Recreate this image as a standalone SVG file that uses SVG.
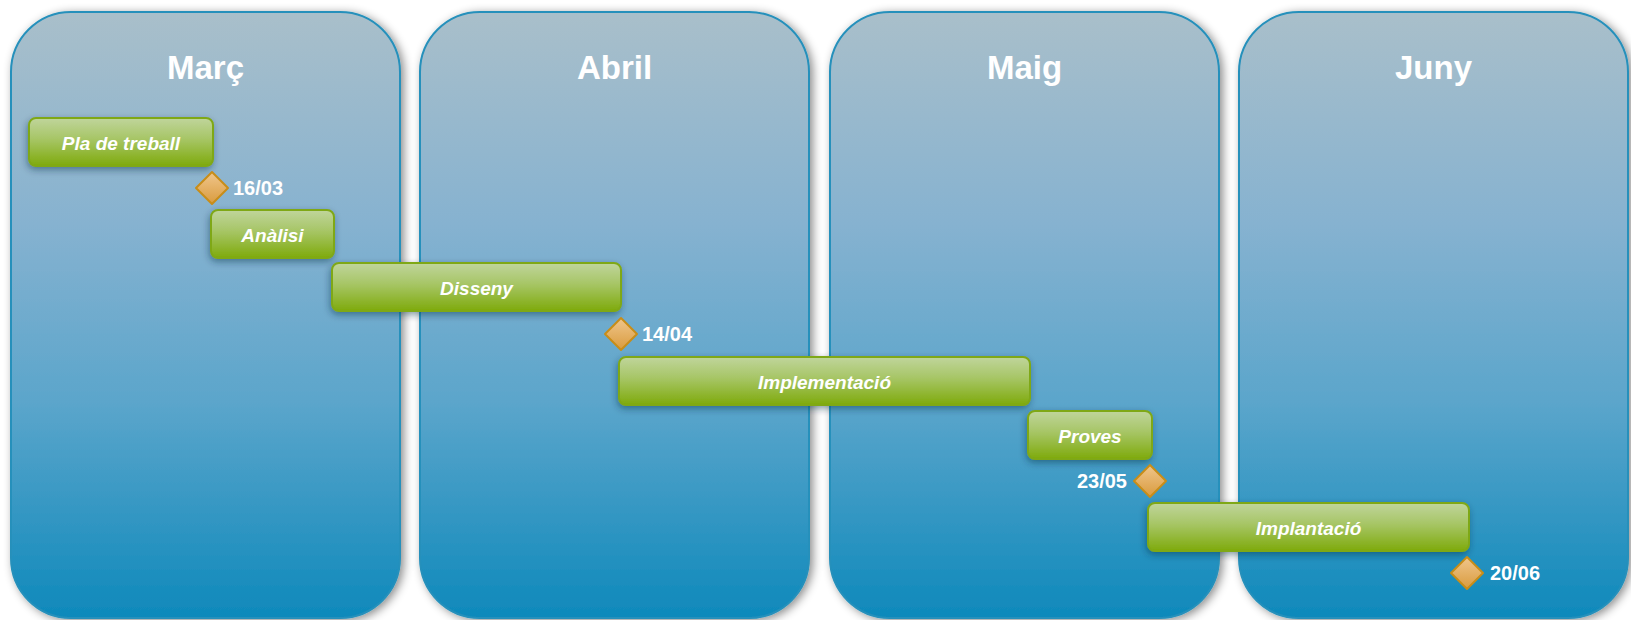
<svg xmlns="http://www.w3.org/2000/svg" width="1631" height="620" viewBox="0 0 1631 620">
  <defs>
    <linearGradient id="colGrad" x1="0" y1="0" x2="0" y2="1">
      <stop offset="0" stop-color="#a9bfca"/>
      <stop offset="0.35" stop-color="#86b2d0"/>
      <stop offset="0.65" stop-color="#5aa5cb"/>
      <stop offset="1" stop-color="#0e89bb"/>
    </linearGradient>
    <linearGradient id="barGrad" x1="0" y1="0" x2="0" y2="1">
      <stop offset="0" stop-color="#c0d59c"/>
      <stop offset="0.45" stop-color="#a6c564"/>
      <stop offset="1" stop-color="#7eaa0c"/>
    </linearGradient>
    <linearGradient id="diaGrad" x1="0" y1="0" x2="0" y2="1">
      <stop offset="0" stop-color="#f0c68c"/>
      <stop offset="1" stop-color="#d99b3e"/>
    </linearGradient>
    <filter id="colShadow" x="-10%" y="-10%" width="120%" height="120%">
      <feDropShadow dx="3" dy="2" stdDeviation="5" flood-color="#000" flood-opacity="0.45"/>
    </filter>
    <filter id="barShadow" x="-10%" y="-30%" width="120%" height="160%">
      <feDropShadow dx="-1" dy="3" stdDeviation="3.5" flood-color="#0a2a40" flood-opacity="0.45"/>
    </filter>
    <style>
      .col { fill: url(#colGrad); stroke: #2590bb; stroke-width: 2; filter: url(#colShadow); }
      .month { font-family: "Liberation Sans", Arial, sans-serif; font-weight: bold; font-size: 33px; fill: #ffffff; text-anchor: middle; }
      .bar { fill: url(#barGrad); stroke: #7fa814; stroke-width: 2; filter: url(#barShadow); }
      .task { font-family: "Liberation Sans", Arial, sans-serif; font-weight: bold; font-style: italic; font-size: 19px; fill: #ffffff; text-anchor: middle; }
      .dia { fill: url(#diaGrad); stroke: #c88d18; stroke-width: 2; stroke-linejoin: round; }
      .date { font-family: "Liberation Sans", Arial, sans-serif; font-weight: bold; font-size: 20px; fill: #ffffff; }
    </style>
  </defs>
  <rect width="1631" height="620" fill="#ffffff"/>

  <g id="month-marc">
    <rect class="col" x="11" y="12" width="389" height="606" rx="60" ry="60"/>
    <text class="month" x="205.5" y="79">Març</text>
  </g>
  <g id="month-abril">
    <rect class="col" x="420" y="12" width="389" height="606" rx="60" ry="60"/>
    <text class="month" x="614.5" y="79">Abril</text>
  </g>
  <g id="month-maig">
    <rect class="col" x="830" y="12" width="389" height="606" rx="60" ry="60"/>
    <text class="month" x="1024.5" y="79">Maig</text>
  </g>
  <g id="month-juny">
    <rect class="col" x="1239" y="12" width="389" height="606" rx="60" ry="60"/>
    <text class="month" x="1433.5" y="79">Juny</text>
  </g>

  <g id="task-pla">
    <rect class="bar" x="29" y="118" width="184" height="48" rx="7"/>
    <text class="task" x="121" y="149.5">Pla de treball</text>
  </g>
  <g id="task-analisi">
    <rect class="bar" x="211" y="210" width="123" height="48" rx="7"/>
    <text class="task" x="272.5" y="241.5">Anàlisi</text>
  </g>
  <g id="task-disseny">
    <rect class="bar" x="332" y="263" width="289" height="48" rx="7"/>
    <text class="task" x="476.5" y="294.5">Disseny</text>
  </g>
  <g id="task-implementacio">
    <rect class="bar" x="619" y="357" width="411" height="48" rx="7"/>
    <text class="task" x="824.5" y="388.5">Implementació</text>
  </g>
  <g id="task-proves">
    <rect class="bar" x="1028" y="411" width="124" height="48" rx="7"/>
    <text class="task" x="1090" y="442.5">Proves</text>
  </g>
  <g id="task-implantacio">
    <rect class="bar" x="1148" y="503" width="321" height="48" rx="7"/>
    <text class="task" x="1308.5" y="534.5">Implantació</text>
  </g>

  <g id="milestone-1603">
    <polygon class="dia" points="212,172 228,188 212,204 196,188"/>
    <text class="date" x="233" y="195">16/03</text>
  </g>
  <g id="milestone-1404">
    <polygon class="dia" points="621,318 637,334 621,350 605,334"/>
    <text class="date" x="642" y="341">14/04</text>
  </g>
  <g id="milestone-2305">
    <polygon class="dia" points="1150,465 1166,481 1150,497 1134,481"/>
    <text class="date" x="1127" y="488" text-anchor="end">23/05</text>
  </g>
  <g id="milestone-2006">
    <polygon class="dia" points="1467,557 1483,573 1467,589 1451,573"/>
    <text class="date" x="1490" y="580">20/06</text>
  </g>
</svg>
